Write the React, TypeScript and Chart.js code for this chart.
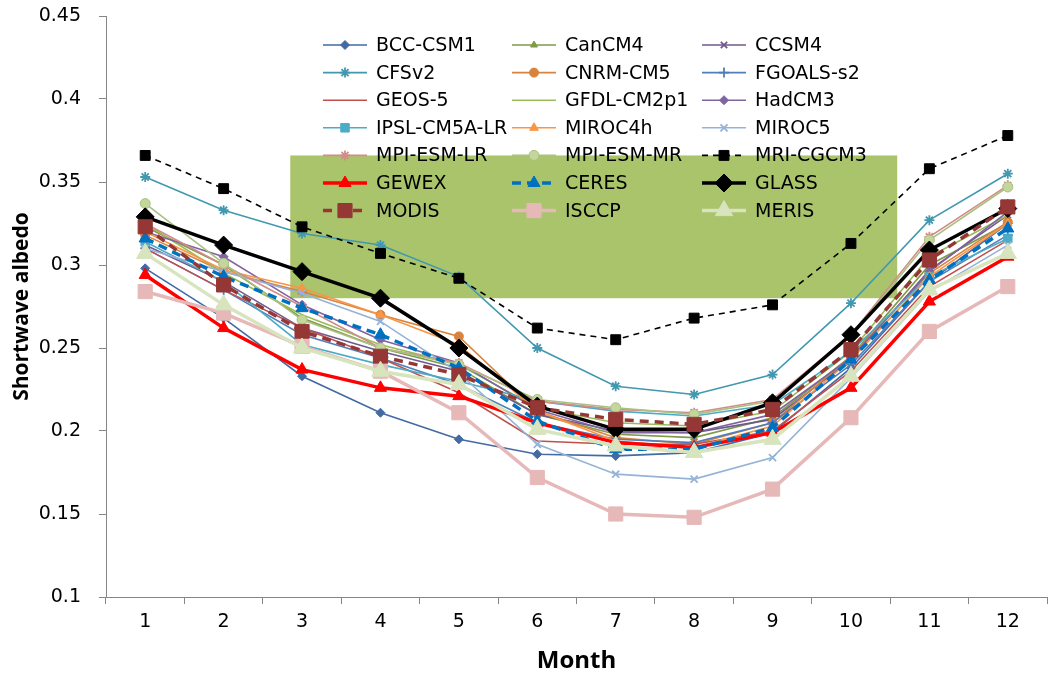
import React, { useEffect, useRef } from 'react';
import { Chart, registerables } from 'chart.js';
import { drawPoint } from 'chart.js/helpers';

Chart.register(...registerables);

// ---------- data ----------
const months = ['1', '2', '3', '4', '5', '6', '7', '8', '9', '10', '11', '12'];
const yTickValues = [0.1, 0.15, 0.2, 0.25, 0.3, 0.35, 0.4, 0.45];

const bccCsm1 = [0.298, 0.268, 0.233, 0.211, 0.195, 0.186, 0.185, 0.187, 0.199, 0.238, 0.290, 0.325];
const canCm4 = [0.323, 0.300, 0.268, 0.250, 0.238, 0.210, 0.198, 0.196, 0.208, 0.245, 0.300, 0.325];
const ccsm4 = [0.312, 0.290, 0.262, 0.248, 0.236, 0.210, 0.200, 0.199, 0.207, 0.243, 0.297, 0.330];
const cfsv2 = [0.353, 0.333, 0.319, 0.312, 0.293, 0.250, 0.227, 0.222, 0.234, 0.277, 0.327, 0.355];
const cnrmCm5 = [0.318, 0.296, 0.284, 0.270, 0.257, 0.212, 0.196, 0.192, 0.205, 0.245, 0.295, 0.326];
const fgoalsS2 = [0.310, 0.285, 0.258, 0.244, 0.228, 0.205, 0.195, 0.193, 0.205, 0.240, 0.290, 0.318];
const geos5 = [0.310, 0.285, 0.262, 0.244, 0.223, 0.194, 0.192, 0.192, 0.200, 0.236, 0.287, 0.315];
const gfdlCm2p1 = [0.325, 0.295, 0.270, 0.252, 0.240, 0.214, 0.205, 0.203, 0.212, 0.248, 0.305, 0.330];
const hadCm3 = [0.320, 0.305, 0.276, 0.255, 0.241, 0.213, 0.199, 0.199, 0.210, 0.244, 0.296, 0.332];
const ipslCm5aLr = [0.314, 0.290, 0.252, 0.240, 0.230, 0.218, 0.212, 0.209, 0.216, 0.248, 0.293, 0.316];
const miroc4h = [0.320, 0.297, 0.286, 0.270, 0.252, 0.212, 0.194, 0.190, 0.203, 0.243, 0.293, 0.325];
const miroc5 = [0.310, 0.296, 0.283, 0.266, 0.235, 0.192, 0.174, 0.171, 0.184, 0.232, 0.284, 0.312];
const mpiEsmLr = [0.325, 0.300, 0.275, 0.250, 0.241, 0.218, 0.213, 0.211, 0.219, 0.258, 0.317, 0.348];
const mpiEsmMr = [0.337, 0.301, 0.267, 0.250, 0.240, 0.219, 0.214, 0.210, 0.218, 0.257, 0.315, 0.347];
const mriCgcm3 = [0.366, 0.346, 0.323, 0.307, 0.292, 0.262, 0.255, 0.268, 0.276, 0.313, 0.358, 0.378];
const gewex = [0.294, 0.262, 0.237, 0.226, 0.221, 0.205, 0.193, 0.190, 0.199, 0.226, 0.278, 0.305];
const ceres = [0.316, 0.293, 0.274, 0.258, 0.238, 0.206, 0.189, 0.189, 0.202, 0.243, 0.291, 0.322];
const glass = [0.329, 0.312, 0.296, 0.280, 0.250, 0.215, 0.201, 0.201, 0.217, 0.258, 0.309, 0.334];
const modis = [0.323, 0.288, 0.260, 0.245, 0.234, 0.214, 0.207, 0.204, 0.213, 0.249, 0.303, 0.335];
const isccp = [0.284, 0.271, 0.251, 0.236, 0.211, 0.172, 0.150, 0.148, 0.165, 0.208, 0.260, 0.287];
const meris = [0.307, 0.276, 0.250, 0.236, 0.228, 0.201, 0.191, 0.187, 0.195, 0.233, 0.285, 0.307];

// shaded band (in data units: month range and albedo range)
const bandMonthFrom = 2.85;
const bandMonthTo = 10.59;
const bandAlbedoFrom = 0.28;
const bandAlbedoTo = 0.366;

// ---------- styles ----------
type S = {
  label: string; data: number[]; color: string; width: number; dash?: number[];
  point: any; radius: number; fill?: string;
};

const series: S[] = [
  { label: 'BCC-CSM1', data: bccCsm1, color: '#426AA3', width: 1.6, point: 'rectRot', radius: 4.5 },
  { label: 'CanCM4', data: canCm4, color: '#7F9A48', width: 1.6, point: 'triangle', radius: 4 },
  { label: 'CCSM4', data: ccsm4, color: '#6F5A8E', width: 1.6, point: 'crossRot', radius: 4.5 },
  { label: 'CFSv2', data: cfsv2, color: '#4198AF', width: 1.6, point: 'star', radius: 5 },
  { label: 'CNRM-CM5', data: cnrmCm5, color: '#D8823D', width: 1.6, point: 'circle', radius: 4.5 },
  { label: 'FGOALS-s2', data: fgoalsS2, color: '#4F7FBA', width: 1.6, point: 'cross', radius: 5 },
  { label: 'GEOS-5', data: geos5, color: '#C0504D', width: 1.6, point: false, radius: 0 },
  { label: 'GFDL-CM2p1', data: gfdlCm2p1, color: '#9BBB59', width: 1.6, point: false, radius: 0 },
  { label: 'HadCM3', data: hadCm3, color: '#8064A2', width: 1.6, point: 'rectRot', radius: 4.5 },
  { label: 'IPSL-CM5A-LR', data: ipslCm5aLr, color: '#4BACC6', width: 1.6, point: 'rect', radius: 6 },
  { label: 'MIROC4h', data: miroc4h, color: '#F79646', width: 1.6, point: 'triangle', radius: 5 },
  { label: 'MIROC5', data: miroc5, color: '#95B3D7', width: 1.6, point: 'crossRot', radius: 5 },
  { label: 'MPI-ESM-LR', data: mpiEsmLr, color: '#D28C8A', width: 1.6, point: 'star', radius: 5 },
  { label: 'MPI-ESM-MR', data: mpiEsmMr, color: '#A9C080', width: 1.6, point: 'circle', radius: 5, fill: '#C3D69B' },
  { label: 'MRI-CGCM3', data: mriCgcm3, color: '#000000', width: 1.6, dash: [6, 5], point: 'rect', radius: 7 },
  { label: 'GEWEX', data: gewex, color: '#FF0000', width: 3.5, point: 'triangle', radius: 7 },
  { label: 'CERES', data: ceres, color: '#0070C0', width: 3.5, dash: [9, 6], point: 'triangle', radius: 7 },
  { label: 'GLASS', data: glass, color: '#000000', width: 3.5, point: 'rectRot', radius: 9 },
  { label: 'MODIS', data: modis, color: '#953735', width: 3.5, dash: [9, 6], point: 'rect', radius: 10 },
  { label: 'ISCCP', data: isccp, color: '#E6B9B8', width: 3.5, point: 'rect', radius: 10 },
  { label: 'MERIS', data: meris, color: '#D7E4BD', width: 3.5, point: 'triangle', radius: 10 },
];

const FONT = "'DejaVu Sans', sans-serif";
const TITLE_FONT = "'Open Sans', 'DejaVu Sans', sans-serif";

const bandPlugin = {
  id: 'band',
  beforeDatasetsDraw(chart: any) {
    const { ctx, scales } = chart;
    const x0 = scales.x.getPixelForValue(bandMonthFrom - 1);
    const x1 = scales.x.getPixelForValue(bandMonthTo - 1);
    const y0 = scales.y.getPixelForValue(bandAlbedoTo);
    const y1 = scales.y.getPixelForValue(bandAlbedoFrom);
    ctx.save();
    ctx.fillStyle = 'rgb(170,196,108)';
    ctx.fillRect(x0, y0, x1 - x0, y1 - y0);
    ctx.restore();
  },
};

const legendCols = [323, 512, 702];
const legendTop = 45;
const legendRowGap = 27.6;
const legendLineLen = 44;

const legendPlugin = {
  id: 'gridLegend',
  afterDraw(chart: any) {
    const { ctx } = chart;
    ctx.save();
    chart.data.datasets.forEach((ds: any, i: number) => {
      const col = i % 3;
      const row = Math.floor(i / 3);
      const x = legendCols[col];
      const y = legendTop + row * legendRowGap;
      ctx.save();
      ctx.strokeStyle = ds.borderColor;
      ctx.lineWidth = ds.borderWidth;
      ctx.setLineDash(ds.borderDash || []);
      ctx.beginPath();
      ctx.moveTo(x, y);
      ctx.lineTo(x + legendLineLen, y);
      ctx.stroke();
      ctx.restore();
      if (ds.pointStyle) {
        ctx.save();
        ctx.fillStyle = ds.pointBackgroundColor;
        ctx.strokeStyle = ds.pointBorderColor;
        ctx.lineWidth = ds.pointBorderWidth;
        drawPoint(ctx, { pointStyle: ds.pointStyle, radius: ds.pointRadius, rotation: 0, borderWidth: ds.pointBorderWidth }, x + legendLineLen / 2, y);
        ctx.restore();
      }
      ctx.fillStyle = '#000';
      ctx.font = `19px ${FONT}`;
      ctx.textBaseline = 'middle';
      ctx.textAlign = 'left';
      ctx.fillText(ds.label, x + legendLineLen + 9, y + 1);
    });
    ctx.restore();
  },
};

export default function App() {
  const ref = useRef<HTMLCanvasElement | null>(null);

  useEffect(() => {
    if (!ref.current) return;
    const n = series.length;
    const chart = new Chart(ref.current, {
      type: 'line',
      data: {
        labels: months,
        datasets: series.map((s, i) => ({
          label: s.label,
          data: s.data,
          borderColor: s.color,
          backgroundColor: s.color,
          borderWidth: s.width,
          borderDash: s.dash || [],
          pointStyle: s.point,
          pointRadius: s.radius,
          pointHoverRadius: s.radius,
          pointBackgroundColor: s.fill || s.color,
          pointBorderColor: s.color,
          pointBorderWidth: s.point === 'crossRot' || s.point === 'cross' || s.point === 'star' ? 1.8 : 1,
          tension: 0,
          fill: false,
          clip: false,
          order: n - i,
        })),
      },
      options: {
        animation: false,
        responsive: true,
        maintainAspectRatio: false,
        layout: { autoPadding: false, padding: { top: 16, right: 1, left: 0, bottom: 0 } },
        plugins: {
          legend: { display: false },
          tooltip: { enabled: false },
        },
        scales: {
          x: {
            offset: true,
            grid: { offset: true, drawOnChartArea: false, color: '#868686', tickLength: 7 },
            border: { display: true, color: '#868686', width: 1 },
            ticks: { color: '#000', font: { family: FONT, size: 19 }, padding: 7 },
            title: { display: true, text: 'Month', color: '#000', font: { family: TITLE_FONT, size: 24, weight: 'bold' }, padding: { top: 0, bottom: 0 } },
            afterFit: (scale: any) => { scale.height = 79; },
          },
          y: {
            min: 0.1,
            max: 0.45,
            afterBuildTicks: (scale: any) => { scale.ticks = yTickValues.map((v) => ({ value: v })); },
            grid: { drawOnChartArea: false, color: '#868686', tickLength: 7 },
            border: { display: true, color: '#868686', width: 1 },
            ticks: { color: '#000', font: { family: FONT, size: 19 }, padding: 18, callback: (v: any) => String(Number(v.toFixed(2))) },
            title: { display: true, text: 'Shortwave albedo', color: '#000', font: { family: TITLE_FONT, size: 21, weight: 'bold' }, padding: { top: 9, bottom: 0 } },
            afterFit: (scale: any) => {
              scale.width = 106;
              scale.paddingTop = 0;
              scale.paddingBottom = 0;
            },
          },
        },
      },
      plugins: [bandPlugin, legendPlugin],
    });
    return () => chart.destroy();
  }, []);

  return (
    <div style={{ position: 'fixed', left: 0, top: 0, width: 1048, height: 676, background: '#fff' }}>
      <canvas ref={ref} />
    </div>
  );
}
